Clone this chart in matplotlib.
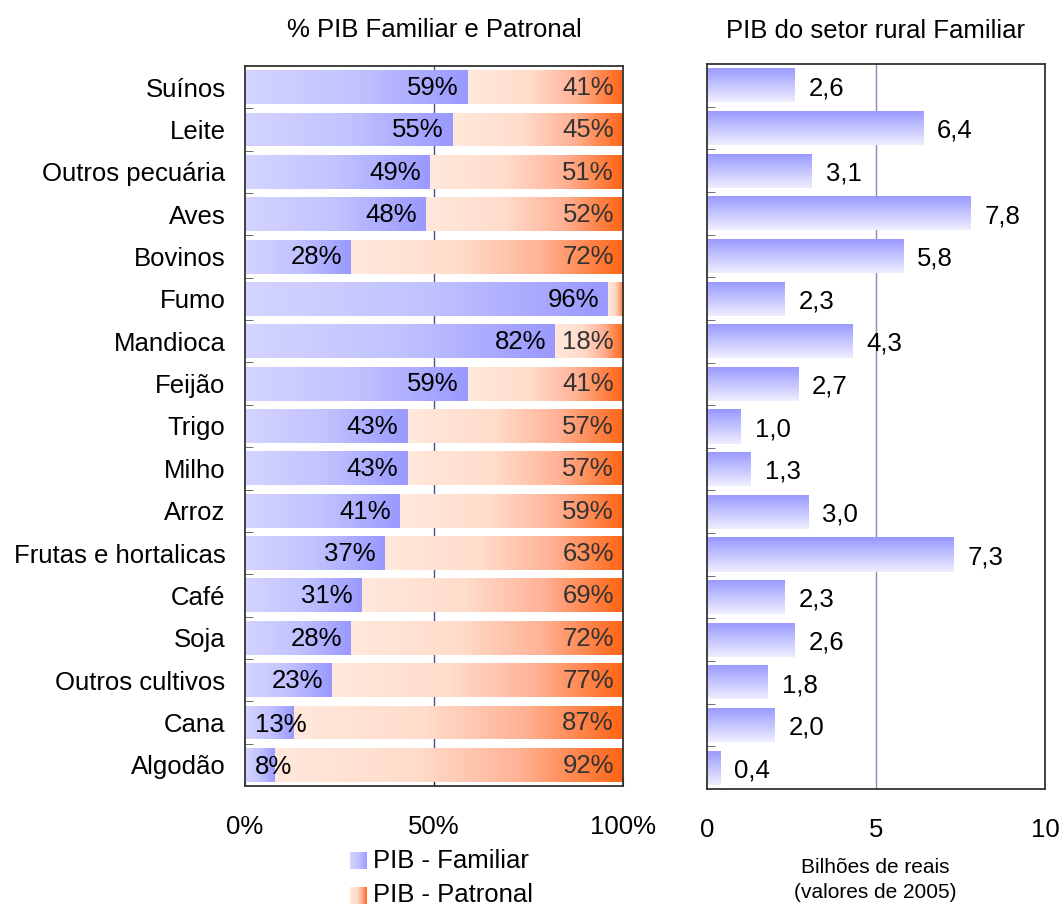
import numpy as np
import matplotlib
matplotlib.use('Agg')
import matplotlib.pyplot as plt
from matplotlib.colors import LinearSegmentedColormap

plt.rcParams['font.family'] = ['Liberation Sans', 'DejaVu Sans']

# ---------------- data ----------------
categories = ['Suínos', 'Leite', 'Outros pecuária', 'Aves', 'Bovinos', 'Fumo',
              'Mandioca', 'Feijão', 'Trigo', 'Milho', 'Arroz',
              'Frutas e hortalicas', 'Café', 'Soja', 'Outros cultivos',
              'Cana', 'Algodão']
familiar_pct = [59, 55, 49, 48, 28, 96, 82, 59, 43, 43, 41, 37, 31, 28, 23, 13, 8]
patronal_pct = [41, 45, 51, 52, 72, 4, 18, 41, 57, 57, 59, 63, 69, 72, 77, 87, 92]
pib_familiar = [2.6, 6.4, 3.1, 7.8, 5.8, 2.3, 4.3, 2.7, 1.0, 1.3, 3.0, 7.3,
                2.3, 2.6, 1.8, 2.0, 0.4]
left_ticks = [0, 50, 100]
left_ticklabels = ['0%', '50%', '100%']
right_ticks = [0, 5, 10]
right_ticklabels = ['0', '5', '10']
title_left = '% PIB Familiar e Patronal'
title_right = 'PIB do setor rural Familiar'
legend_labels = ['PIB - Familiar', 'PIB - Patronal']
axis_note = 'Bilhões de reais\n(valores de 2005)'

# ---------------- styles ----------------
cmap_fam = LinearSegmentedColormap.from_list(
    'fam', [(0, '#D4D4FF'), (0.5, '#C2C2FF'), (1, '#9999FF')])
cmap_pat = LinearSegmentedColormap.from_list(
    'pat', [(0, '#FFE8DC'), (0.4, '#FFDCCB'), (0.7, '#FFB295'), (1, '#FF6414')])
cmap_vert = LinearSegmentedColormap.from_list(
    'vert', [(0, '#9898FF'), (1, '#EEEEFF')])

FS = 18.5
W, H = 1062, 907
fig = plt.figure(figsize=(W / 100, H / 100), dpi=100)

axL = fig.add_axes([245 / W, 1 - 786 / H, 378 / W, 720 / H])
axR = fig.add_axes([707 / W, 1 - 789 / H, 338 / W, 725 / H])

ypos = np.arange(len(categories))


def fill_gradient(ax, patch, cmap, direction='h'):
    x, y = patch.get_x(), patch.get_y()
    w, h = patch.get_width(), patch.get_height()
    if w <= 0:
        return
    g = np.linspace(0, 1, 256)
    arr = g[np.newaxis, :] if direction == 'h' else g[:, np.newaxis]
    im = ax.imshow(arr, cmap=cmap, extent=(x, x + w, y, y + h), origin='lower',
                   aspect='auto', interpolation='bilinear', zorder=2)
    im.set_clip_path(patch)


# ---------------- left panel ----------------
bars_f = axL.barh(ypos, familiar_pct, height=0.8, color='none', edgecolor='none', zorder=2)
bars_p = axL.barh(ypos, patronal_pct, left=familiar_pct, height=0.8,
                  color='none', edgecolor='none', zorder=2)
for p in bars_f:
    fill_gradient(axL, p, cmap_fam)
for p in bars_p:
    fill_gradient(axL, p, cmap_pat)

axL.axvline(50, color='#505088', lw=1.0, zorder=0.5)

for i, (f, pt) in enumerate(zip(familiar_pct, patronal_pct)):
    if f < 20:
        axL.text(2.6, i + 0.05, f'{f}%', ha='left', va='center', fontsize=FS,
                 color='black', zorder=5)
    else:
        axL.text(f - 2.4, i + 0.02, f'{f}%', ha='right', va='center', fontsize=FS,
                 color='black', zorder=5)
    if pt >= 5:
        axL.text(100 - 2.4, i + 0.02, f'{pt}%', ha='right', va='center', fontsize=FS,
                 color='#333333', zorder=5)

axL.set_xlim(0, 100)
axL.set_ylim(len(categories) - 0.5, -0.5)
axL.set_xticks(left_ticks)
axL.set_xticklabels(left_ticklabels, fontsize=FS)
axL.set_yticks(ypos)
axL.set_yticklabels(categories, fontsize=FS)
axL.set_yticks(ypos[:-1] + 0.5, minor=True)
axL.tick_params(axis='y', which='major', length=0, pad=14)
axL.tick_params(axis='y', which='minor', direction='in', length=6, color='#555555')
axL.tick_params(axis='x', which='major', direction='in', length=6, pad=21, color='#222222')
axL.set_title(title_left, fontsize=FS, pad=21)

# ---------------- right panel ----------------
bars_r = axR.barh(ypos, pib_familiar, height=0.8, color='none', edgecolor='none', zorder=2)
for p in bars_r:
    fill_gradient(axR, p, cmap_vert, direction='v')

axR.axvline(5, color='#8C8CAA', lw=1.0, zorder=0.5)

for i, v in enumerate(pib_familiar):
    axR.annotate(f'{v:.1f}'.replace('.', ','), xy=(v, i), xytext=(10, -2),
                 textcoords='offset points', ha='left', va='center',
                 fontsize=FS, color='black', zorder=5)

axR.set_xlim(0, 10)
axR.set_ylim(len(categories) - 0.5, -0.5)
axR.set_xticks(right_ticks)
axR.set_xticklabels(right_ticklabels, fontsize=FS)
axR.set_yticks(ypos[:-1] + 0.5, minor=True)
axR.set_yticks([])
axR.tick_params(axis='y', which='minor', direction='in', length=6, color='#555555')
axR.tick_params(axis='x', which='major', direction='in', length=0, pad=21)
axR.set_title(title_right, fontsize=FS, pad=19)

for ax in (axL, axR):
    for s in ax.spines.values():
        s.set_color('#333333')
        s.set_linewidth(1.3)

# ---------------- legend ----------------
g = np.linspace(0, 1, 256)[np.newaxis, :]
for k, (cm, lab) in enumerate(zip([cmap_fam, cmap_pat], legend_labels)):
    top = 852 + k * 35
    sw = fig.add_axes([350 / W, 1 - (top + 17) / H, 17 / W, 17 / H])
    sw.imshow(g, cmap=cm, aspect='auto')
    sw.axis('off')
    fig.text(373 / W, 1 - (top + 8.5) / H, lab, ha='left', va='center', fontsize=FS)

fig.text(875 / W, 1 - 880 / H, axis_note, ha='center', va='center', fontsize=15,
         linespacing=1.45)

fig.savefig('out.png', dpi=100)
